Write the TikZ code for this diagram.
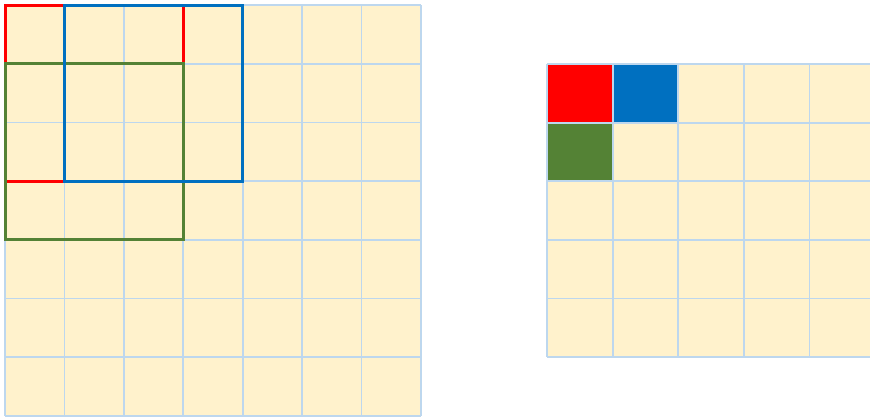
\documentclass[tikz,border=0pt]{standalone}
\begin{document}
\begin{tikzpicture}[x=1pt,y=-1pt,
  gridline/.style={draw=gridblue,line width=1.8pt},
  frame/.style={line width=3pt}]
\definecolor{cellfill}{HTML}{FFF2CC}
\definecolor{gridblue}{HTML}{BDD7EE}
\definecolor{redc}{HTML}{FF0000}
\definecolor{bluec}{HTML}{0070C0}
\definecolor{greenc}{HTML}{548235}
\useasboundingbox (0,0) rectangle (870,418);
% left 7x7 grid
\fill[cellfill] (5,5) rectangle (421,416);
\foreach \i in {0,...,7} {
  \draw[gridline] ({5+\i*59.43},5) -- ({5+\i*59.43},416);
  \draw[gridline] (5,{5+\i*58.71}) -- (421,{5+\i*58.71});
}
\coordinate (r1) at (5,5);
\coordinate (r2) at (183.3,181.1);
\coordinate (b1) at (64.4,5);
\coordinate (b2) at (242.7,181.1);
\coordinate (g1) at (5,63.7);
\coordinate (g2) at (183.3,239.8);
\draw[frame,redc] (r1) rectangle (r2);
\draw[frame,greenc] (g1) rectangle (g2);
\draw[frame,bluec] (b1) rectangle (b2);
% right 5x5 grid (cropped)
\begin{scope}
\clip (0,0) rectangle (870,418);
\fill[cellfill] (547,64) rectangle (875,357);
\fill[redc] (547,64) rectangle (612.6,122.6);
\fill[bluec] (612.6,64) rectangle (678.2,122.6);
\fill[greenc] (547,122.6) rectangle (612.6,181.2);
\foreach \i in {0,...,5} {
  \draw[gridline] ({547+\i*65.6},64) -- ({547+\i*65.6},357);
  \draw[gridline] (547,{64+\i*58.6}) -- (875,{64+\i*58.6});
}
\end{scope}
\end{tikzpicture}
\end{document}
